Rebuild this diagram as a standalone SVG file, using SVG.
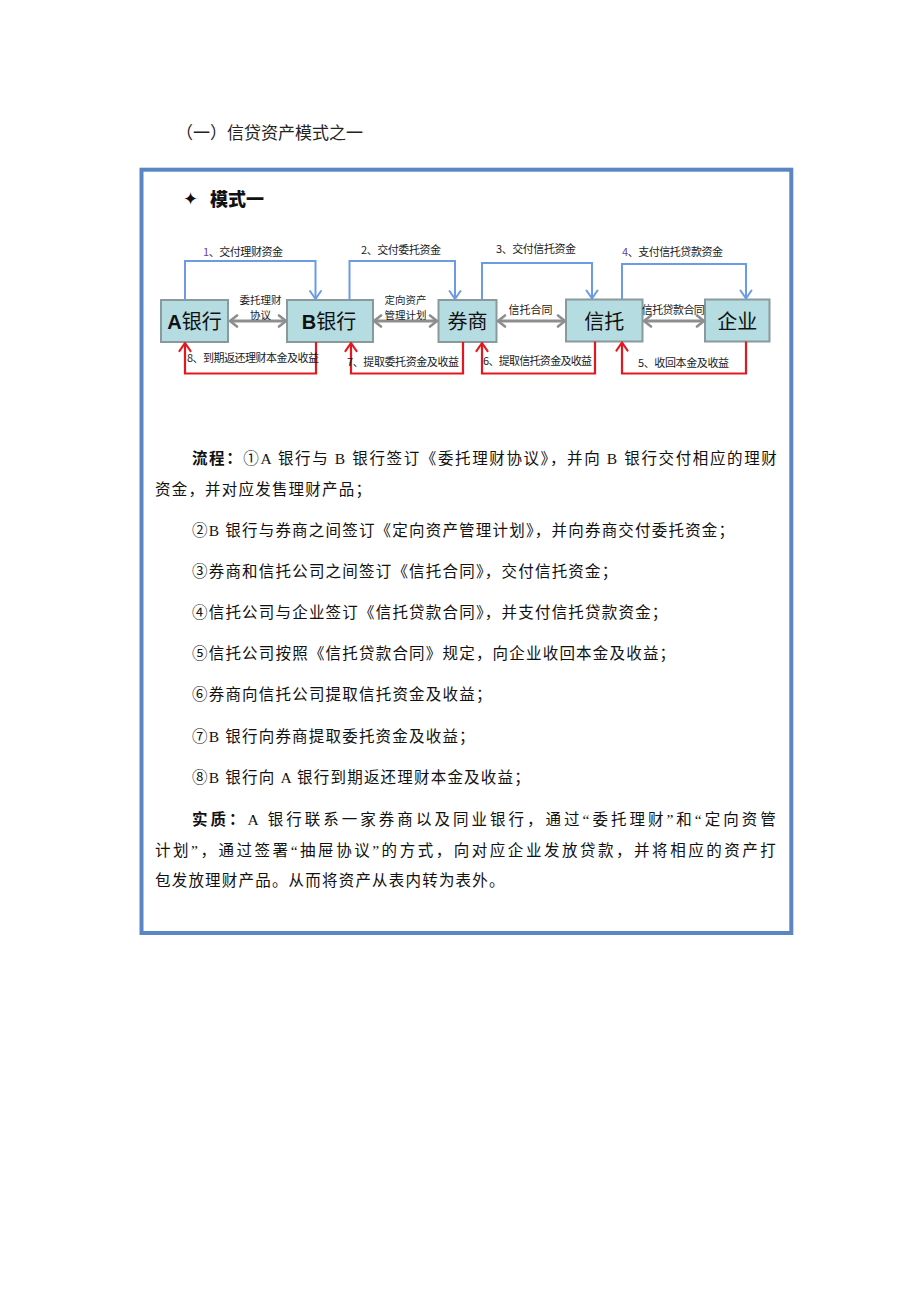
<svg xmlns="http://www.w3.org/2000/svg" width="920" height="1302" viewBox="0 0 920 1302">
<style>
.cjk{font-family:"Noto Sans CJK SC","Noto Sans",sans-serif}
.body{font-family:"Liberation Serif","Noto Sans CJK SC",serif;font-size:15.5px;letter-spacing:1.2px;fill:#111}
.b{font-weight:bold}
.node rect{fill:#B5DCE1;stroke:#8A9A9C;stroke-width:2}
.node text{font-family:"Liberation Sans","Noto Sans CJK SC",sans-serif;font-size:20px;fill:#111;text-anchor:middle}
.lbl{font-family:"Noto Sans CJK SC",sans-serif;font-size:11px;fill:#1a1a1a;text-anchor:middle}
.sm{font-size:10.5px}
.blue{fill:none;stroke:#6C9BE6;stroke-width:2;marker-end:url(#mb)}
.red{fill:none;stroke:#E3181E;stroke-width:2.2;marker-end:url(#mr)}
.gray{fill:none;stroke:#8E8E8E;stroke-width:3;marker-start:url(#mg);marker-end:url(#mg)}
</style>
<defs>
<marker id="mb" markerUnits="userSpaceOnUse" markerWidth="14" markerHeight="14" viewBox="0 0 14 14" refX="12" refY="7" orient="auto"><path d="M4,1.5 L12,7 L4,12.5" fill="none" stroke="#6C9BE6" stroke-width="2" stroke-linecap="round" stroke-linejoin="round"/></marker>
<marker id="mr" markerUnits="userSpaceOnUse" markerWidth="14" markerHeight="14" viewBox="0 0 14 14" refX="12" refY="7" orient="auto"><path d="M4,1.5 L12,7 L4,12.5" fill="none" stroke="#E3181E" stroke-width="2.2" stroke-linecap="round" stroke-linejoin="round"/></marker>
<marker id="mg" markerUnits="userSpaceOnUse" markerWidth="14" markerHeight="14" viewBox="0 0 14 14" refX="12" refY="7" orient="auto-start-reverse"><path d="M5,1.5 L12,7 L5,12.5" fill="none" stroke="#8E8E8E" stroke-width="2.6" stroke-linecap="round" stroke-linejoin="round"/></marker>
</defs>
<rect width="920" height="1302" fill="#fff"/>
<text x="176" y="139" class="cjk" font-size="17" fill="#222">（一）信贷资产模式之一</text>
<rect x="141.5" y="169.7" width="649.8" height="763.3" fill="none" stroke="#5A86C3" stroke-width="4"/>
<text x="183" y="205" font-family="DejaVu Sans,sans-serif" font-size="18" fill="#111">✦</text>
<text x="210" y="206" class="cjk" font-size="18" font-weight="900" fill="#111">模式一</text>
<g id="node-a" class="node"><rect x="161" y="300" width="67" height="42"/><text x="194.5" y="328.5"><tspan font-weight="bold">A</tspan>银行</text></g>
<g id="node-b" class="node"><rect x="287" y="300" width="86" height="42"/><text x="329" y="328.5"><tspan font-weight="bold">B</tspan>银行</text></g>
<g id="node-broker" class="node"><rect x="438.5" y="300" width="58" height="42"/><text x="467.5" y="328.5">券商</text></g>
<g id="node-trust" class="node"><rect x="566" y="299.5" width="76.5" height="42"/><text x="604.3" y="328.5">信托</text></g>
<g id="node-firm" class="node"><rect x="705" y="299.5" width="64.5" height="42"/><text x="737.3" y="328.5">企业</text></g>
<g id="connectors">
<path class="blue" d="M185,300 V261 H315.5 V299"/>
<path class="blue" d="M349.5,300 V261 H455 V299"/>
<path class="blue" d="M482,300 V263 H592 V298.5"/>
<path class="blue" d="M622,299.5 V264 H746 V298.5"/>
<path class="red" d="M316,342 V373.5 H185 V343"/>
<path class="red" d="M463,342 V373.5 H351 V343"/>
<path class="red" d="M595,341.5 V373.5 H482 V343"/>
<path class="red" d="M746,341.5 V373.5 H622 V342.5"/>
<path class="gray" d="M230,321 H286"/>
<path class="gray" d="M374,321 H437"/>
<path class="gray" d="M498,321 H565"/>
<path class="gray" d="M644,321 H704"/>
<text class="lbl" x="243" y="256" textLength="80"><tspan fill="#6B3FA0">1</tspan>、交付理财资金</text>
<text class="lbl" x="401" y="254" textLength="80">2、交付委托资金</text>
<text class="lbl" x="536" y="253" textLength="80">3、交付信托资金</text>
<text class="lbl" x="672.5" y="256" textLength="101"><tspan fill="#6B3FA0">4</tspan>、支付信托贷款资金</text>
<text class="lbl" x="253" y="362" textLength="132">8、到期返还理财本金及收益</text>
<text class="lbl" x="403" y="366" textLength="112">7、提取委托资金及收益</text>
<text class="lbl" x="537.5" y="365" textLength="109">6、提取信托资金及收益</text>
<text class="lbl" x="683.5" y="367" textLength="91">5、收回本金及收益</text>
<text class="lbl sm" x="260.5" y="303.5">委托理财</text>
<text class="lbl sm" x="260.5" y="318.5">协议</text>
<text class="lbl sm" x="405.5" y="303.5">定向资产</text>
<text class="lbl sm" x="405.5" y="318.5">管理计划</text>
<text class="lbl" x="530.5" y="314">信托合同</text>
<text class="lbl" x="673.3" y="313.5" textLength="63">信托贷款合同</text>
</g>
<g id="body-text">
<text class="body" x="192" y="464" textLength="586"><tspan class="b">流程：</tspan>①A 银行与 B 银行签订《委托理财协议》，并向 B 银行交付相应的理财</text>
<text class="body" x="155" y="495">资金，并对应发售理财产品；</text>
<text class="body" x="192" y="536">②B 银行与券商之间签订《定向资产管理计划》，并向券商交付委托资金；</text>
<text class="body" x="192" y="577">③券商和信托公司之间签订《信托合同》，交付信托资金；</text>
<text class="body" x="192" y="618">④信托公司与企业签订《信托贷款合同》，并支付信托贷款资金；</text>
<text class="body" x="192" y="659">⑤信托公司按照《信托贷款合同》规定，向企业收回本金及收益；</text>
<text class="body" x="192" y="700">⑥券商向信托公司提取信托资金及收益；</text>
<text class="body" x="192" y="742">⑦B 银行向券商提取委托资金及收益；</text>
<text class="body" x="192" y="783">⑧B 银行向 A 银行到期返还理财本金及收益；</text>
<text class="body" x="192" y="825" textLength="585"><tspan class="b">实质：</tspan>A 银行联系一家券商以及同业银行，通过“委托理财”和“定向资管</text>
<text class="body" x="155" y="856" textLength="622">计划”，通过签署“抽屉协议”的方式，向对应企业发放贷款，并将相应的资产打</text>
<text class="body" x="155" y="886">包发放理财产品。从而将资产从表内转为表外。</text>
</g>
</svg>
